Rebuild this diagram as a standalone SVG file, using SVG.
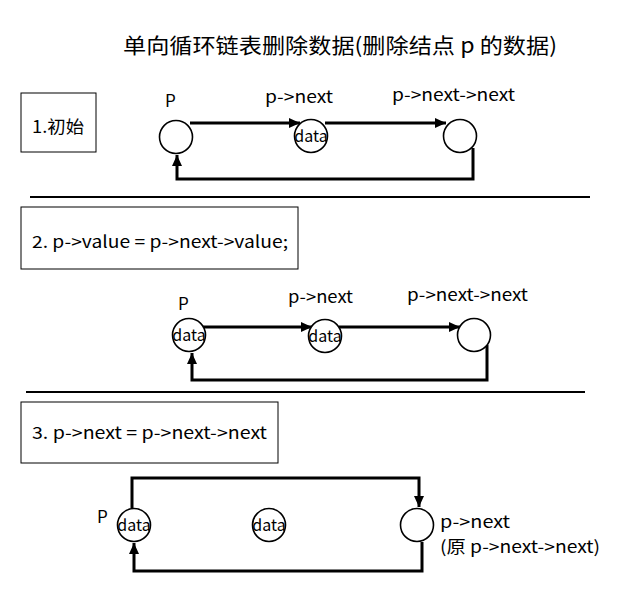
<svg xmlns="http://www.w3.org/2000/svg" width="634" height="604" viewBox="0 0 634 604">
<defs>
<marker id="ah" markerUnits="userSpaceOnUse" markerWidth="12" markerHeight="10" refX="11" refY="5" orient="auto">
<path d="M0,0 L11,5 L0,10 z" fill="#000"/>
</marker>
<style>
text{font-family:"Noto Sans CJK SC","Noto Sans",sans-serif;fill:#000}
.t{font-size:17px}
.d{font-size:16px;text-anchor:middle}
.box{fill:#fff;stroke:#000;stroke-width:1}
.node{fill:#fff;stroke:#000;stroke-width:1.6}
.sep{stroke:#000;stroke-width:2}
.c{fill:none;stroke:#000;stroke-width:3;marker-end:url(#ah)}
</style>
</defs>
<rect width="634" height="604" fill="#fff"/>
<text x="123" y="53" font-size="21" textLength="434" lengthAdjust="spacingAndGlyphs">单向循环链表删除数据(删除结点 p 的数据)</text>

<line class="sep" x1="30" y1="197" x2="590" y2="197"/>
<line class="sep" x1="26" y1="392" x2="585" y2="392"/>

<g id="step1">
<rect class="box" x="21" y="93" width="75" height="59"/>
<text class="t" x="32" y="133" textLength="52" lengthAdjust="spacingAndGlyphs">1.初始</text>
</g>
<g id="step2">
<rect class="box" x="21" y="207" width="277" height="62"/>
<text class="t" x="32" y="248" textLength="256" lengthAdjust="spacingAndGlyphs">2. p-&gt;value = p-&gt;next-&gt;value;</text>
</g>
<g id="step3">
<rect class="box" x="21" y="402" width="257" height="61"/>
<text class="t" x="32" y="439" textLength="235" lengthAdjust="spacingAndGlyphs">3. p-&gt;next = p-&gt;next-&gt;next</text>
</g>

<g id="connectors">
<line class="c" x1="190" y1="123" x2="300" y2="123"/>
<line class="c" x1="325" y1="123" x2="446" y2="123"/>
<path class="c" d="M473,148 V179 H177 V155"/>
<line class="c" x1="203" y1="327" x2="312" y2="327"/>
<line class="c" x1="339" y1="327" x2="460" y2="327"/>
<path class="c" d="M487,345 V380 H192 V353"/>
<path class="c" d="M132,508 V478 H419 V507"/>
<path class="c" d="M422,542 V571 H134 V543"/>
</g>

<g id="s1-p">
<circle class="node" cx="176" cy="137" r="16.5"/>
<text class="t" x="165" y="107">P</text>
</g>
<g id="s1-next">
<circle class="node" cx="311" cy="136" r="16.5"/>
<text class="d" x="311" y="142">data</text>
<text class="t" x="265" y="103" textLength="68" lengthAdjust="spacingAndGlyphs">p-&gt;next</text>
</g>
<g id="s1-nextnext">
<circle class="node" cx="460" cy="136" r="16.5"/>
<text class="t" x="392" y="101" textLength="123" lengthAdjust="spacingAndGlyphs">p-&gt;next-&gt;next</text>
</g>

<g id="s2-p">
<circle class="node" cx="189" cy="335" r="16.5"/>
<text class="d" x="189" y="341">data</text>
<text class="t" x="178" y="310">P</text>
</g>
<g id="s2-next">
<circle class="node" cx="325" cy="336" r="16.5"/>
<text class="d" x="325" y="342">data</text>
<text class="t" x="288" y="303" textLength="65" lengthAdjust="spacingAndGlyphs">p-&gt;next</text>
</g>
<g id="s2-nextnext">
<circle class="node" cx="474" cy="335" r="16.5"/>
<text class="t" x="407" y="301" textLength="121" lengthAdjust="spacingAndGlyphs">p-&gt;next-&gt;next</text>
</g>

<g id="s3-p">
<circle class="node" cx="134" cy="525" r="16.5"/>
<text class="d" x="134" y="531">data</text>
<text class="t" x="97" y="523">P</text>
</g>
<g id="s3-old">
<circle class="node" cx="269" cy="525" r="16.5"/>
<text class="d" x="269" y="531">data</text>
</g>
<g id="s3-next">
<circle class="node" cx="417" cy="525" r="16.5"/>
<text class="t" x="440" y="528" textLength="70" lengthAdjust="spacingAndGlyphs">p-&gt;next</text>
<text class="t" x="440" y="553" textLength="160" lengthAdjust="spacingAndGlyphs">(原 p-&gt;next-&gt;next)</text>
</g>
</svg>
